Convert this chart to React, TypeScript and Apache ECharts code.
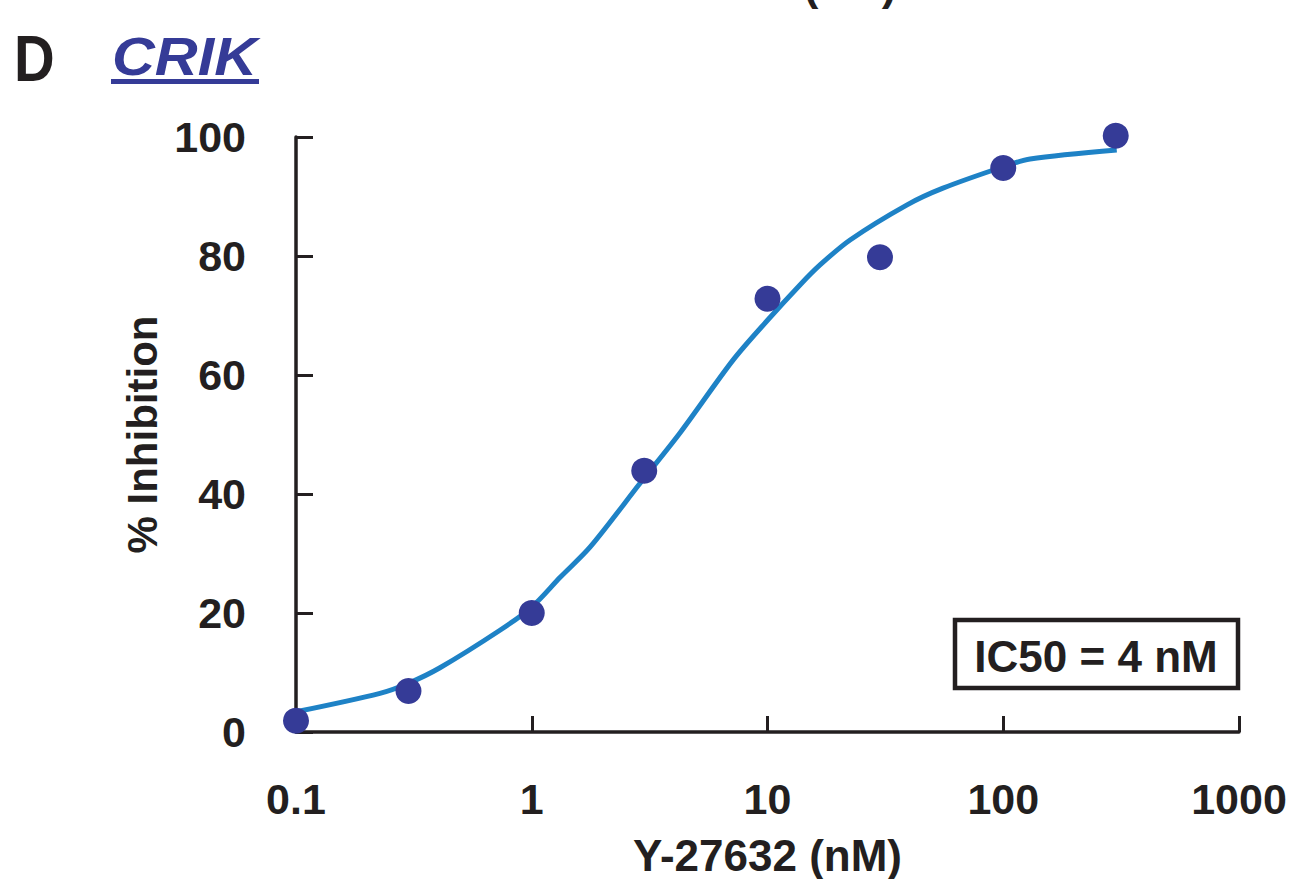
import React, { useEffect, useRef } from "react";
import * as echarts from "echarts";

const concentrations = [0.1, 0.3, 1, 3, 10, 30, 100, 300];
const inhibition = [1.9, 6.9, 20.0, 43.9, 72.8, 79.8, 94.8, 100.2];

const fitX = [0.1, 0.227, 0.3, 0.408, 0.733, 1, 1.32, 1.77, 2.88, 4.26, 7.14, 10, 13.7, 16.7, 22.4, 39.1, 55.5, 100, 130, 303];
const fitY = [3.4, 6.5, 8.2, 10.8, 17.1, 21, 26, 31.1, 41.8, 50.3, 62.5, 69.2, 75.1, 78.5, 82.7, 88.6, 91.4, 95.0, 96.3, 97.8];

const xTicks = [0.1, 1, 10, 100, 1000];
const yTicks = [0, 20, 40, 60, 80, 100];

const FONT = "'Liberation Sans', Arial, Helvetica, sans-serif";
const INK = "#231f20";
const BLUE_DOT = "#353b97";
const BLUE_LINE = "#1e82c6";

export default function App() {
  const ref = useRef<HTMLDivElement>(null);

  useEffect(() => {
    document.body.style.margin = "0";
    if (!ref.current) return;
    const chart = echarts.init(ref.current, undefined, { renderer: "svg" });
    const option: any = {
      animation: false,
      backgroundColor: "#ffffff",
      grid: {
        left: 296,
        right: 52,
        top: 137,
        bottom: 147,
        containLabel: false,
        outerBoundsMode: "none",
      },
      xAxis: {
        type: "log",
        logBase: 10,
        min: xTicks[0],
        max: xTicks[xTicks.length - 1],
        name: "Y-27632 (nM)",
        nameLocation: "middle",
        nameGap: 101,
        nameTextStyle: { fontFamily: FONT, fontWeight: "bold", fontSize: 44, color: INK },
        axisLine: { lineStyle: { color: INK, width: 3.5 } },
        axisTick: { inside: true, length: 16, lineStyle: { color: INK, width: 3 } },
        axisLabel: {
          margin: 45,
          fontFamily: FONT,
          fontWeight: "bold",
          fontSize: 43,
          color: INK,
          formatter: (v: number) => {
            const t = xTicks.find((k) => Math.abs(k - v) / k < 1e-6);
            return t !== undefined ? String(t) : "";
          },
        },
        splitLine: { show: false },
        minorTick: { show: false },
      },
      yAxis: {
        type: "value",
        min: yTicks[0],
        max: yTicks[yTicks.length - 1],
        interval: 20,
        name: "% Inhibition",
        nameLocation: "middle",
        nameGap: 131,
        nameTextStyle: { fontFamily: FONT, fontWeight: "bold", fontSize: 42, color: INK },
        axisLine: { show: true, lineStyle: { color: INK, width: 3.5 } },
        axisTick: { show: true, inside: true, length: 17, lineStyle: { color: INK, width: 3 } },
        axisLabel: { margin: 50, fontFamily: FONT, fontWeight: "bold", fontSize: 43, color: INK },
        splitLine: { show: false },
      },
      series: [
        {
          type: "line",
          data: fitX.map((x, i) => [x, fitY[i]]),
          showSymbol: false,
          smooth: 0.3,
          clip: false,
          lineStyle: { color: BLUE_LINE, width: 5 },
          z: 2,
        },
        {
          type: "scatter",
          data: concentrations.map((x, i) => [x, inhibition[i]]),
          symbol: "circle",
          symbolSize: 26,
          clip: false,
          itemStyle: { color: BLUE_DOT, opacity: 1 },
          z: 3,
        },
      ],
      graphic: [
        {
          type: "text",
          x: 762,
          y: -16,
          style: {
            text: "Y-27632 (nM)",
            font: `bold 44px ${FONT}`,
            fill: INK,
            textAlign: "center",
            textVerticalAlign: "middle",
          },
        },
        {
          type: "text",
          x: 14,
          y: 59,
          scaleX: 0.88,
          style: {
            text: "D",
            font: `bold 64px ${FONT}`,
            fill: INK,
            textAlign: "left",
            textVerticalAlign: "middle",
          },
        },
        {
          type: "text",
          x: 112,
          y: 57,
          scaleX: 1.12,
          style: {
            text: "CRIK",
            font: `italic bold 53px ${FONT}`,
            fill: BLUE_DOT,
            textAlign: "left",
            textVerticalAlign: "middle",
          },
        },
        {
          type: "rect",
          shape: { x: 111, y: 79, width: 148, height: 5 },
          style: { fill: BLUE_DOT },
        },
        {
          type: "rect",
          shape: { x: 955, y: 620, width: 283, height: 68 },
          style: { fill: "#ffffff", stroke: INK, lineWidth: 4.5 },
          z: 10,
        },
        {
          type: "text",
          x: 1096,
          y: 656,
          z: 11,
          style: {
            text: "IC50 = 4 nM",
            font: `bold 44px ${FONT}`,
            fill: INK,
            textAlign: "center",
            textVerticalAlign: "middle",
          },
        },
      ],
    };
    chart.setOption(option);
    return () => chart.dispose();
  }, []);

  return <div ref={ref} style={{ width: 1291, height: 879 }} />;
}
